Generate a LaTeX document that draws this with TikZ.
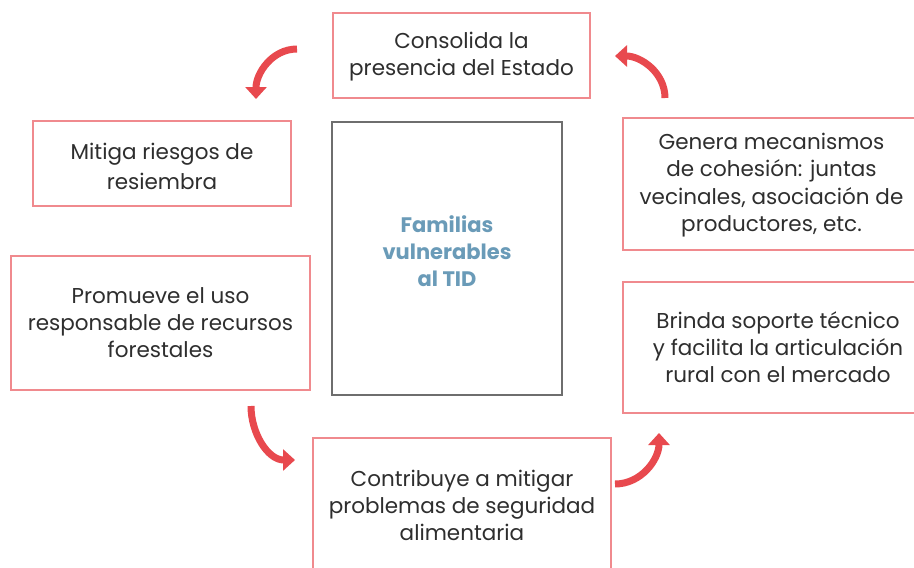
\documentclass[tikz,border=0pt]{standalone}
\usepackage{fontspec}
\setmainfont{Poppins}
\usetikzlibrary{arrows.meta}
\definecolor{boxred}{HTML}{F08A8E}
\definecolor{arrred}{HTML}{E8494E}
\definecolor{txt}{HTML}{2E2E2E}
\definecolor{ctrblue}{HTML}{6A9BB8}
\definecolor{ctrgray}{HTML}{6E6E6E}
\begin{document}
\begin{tikzpicture}[x=1pt,y=-1pt,
  redbox/.style={draw=boxred,line width=1.4pt,align=center,text=txt,
    font=\fontsize{21.5}{27}\selectfont,inner sep=0pt,anchor=center},
  boxtext/.style={align=center,text=txt,inner sep=0pt,anchor=center},
  ctrbox/.style={draw=ctrgray,line width=1.1pt,inner sep=0pt,anchor=center},
  ctrtext/.style={align=center,text=ctrblue,
    font=\fontsize{21}{27}\selectfont\bfseries,inner sep=0pt,anchor=center},
  cyc/.style={draw=arrred,line width=7pt,-{Triangle[width=21pt,length=12pt]}}]
\useasboundingbox[fill=white] (0,0) rectangle (914,568);
\begin{scope}
\clip (0,0) rectangle (914,568);
\node[redbox,minimum width=257pt,minimum height=85pt] (top) at (461.5,55.5) {};
\node[boxtext,font=\fontsize{21.5}{27}\selectfont] (topt) at (461.5,57) {Consolida la\\presencia del Estado};
\node[redbox,minimum width=258pt,minimum height=85pt] (mit) at (162,163.5) {};
\node[boxtext,font=\fontsize{21.5}{30}\selectfont] (mitt) at (162,166) {Mitiga riesgos de\\resiembra};
\node[ctrbox,minimum width=230pt,minimum height=273pt] (ctr) at (447,258.5) {};
\node[ctrtext] (ctrt) at (447,251.5) {Familias\\vulnerables\\al TID};
\node[redbox,minimum width=297pt,minimum height=132pt] (gen) at (771.5,184) {};
\node[boxtext,font=\fontsize{21.5}{27.5}\selectfont] (gent) at (771.5,185) {Genera mecanismos\\de cohesión: juntas\\vecinales, asociación de\\productores, etc.};
\node[redbox,minimum width=310pt,minimum height=131pt] (bri) at (778,347.5) {Brinda soporte técnico\\y facilita la articulación\\rural con el mercado};
\node[redbox,minimum width=299pt,minimum height=134pt] (pro) at (160.5,323) {Promueve el uso\\responsable de recursos\\forestales};
\node[redbox,minimum width=298pt,minimum height=134pt] (con) at (462,505) {Contribuye a mitigar\\problemas de seguridad\\alimentaria};
\end{scope}
\coordinate (a1s) at (297,49);
\coordinate (a1e) at (256,99);
\coordinate (a2s) at (665,98);
\coordinate (a2e) at (615,56);
\coordinate (a3s) at (251,406);
\coordinate (a3e) at (295,460);
\coordinate (a4s) at (615,484);
\coordinate (a4e) at (659,433);
\draw[cyc] (a1s) to[out=180,in=90] (a1e);
\draw[cyc] (a2s) to[out=90,in=0] (a2e);
\draw[cyc] (a3s) to[out=-90,in=180] (a3e);
\draw[cyc] (a4s) to[out=0,in=-90] (a4e);
\end{tikzpicture}
\end{document}
